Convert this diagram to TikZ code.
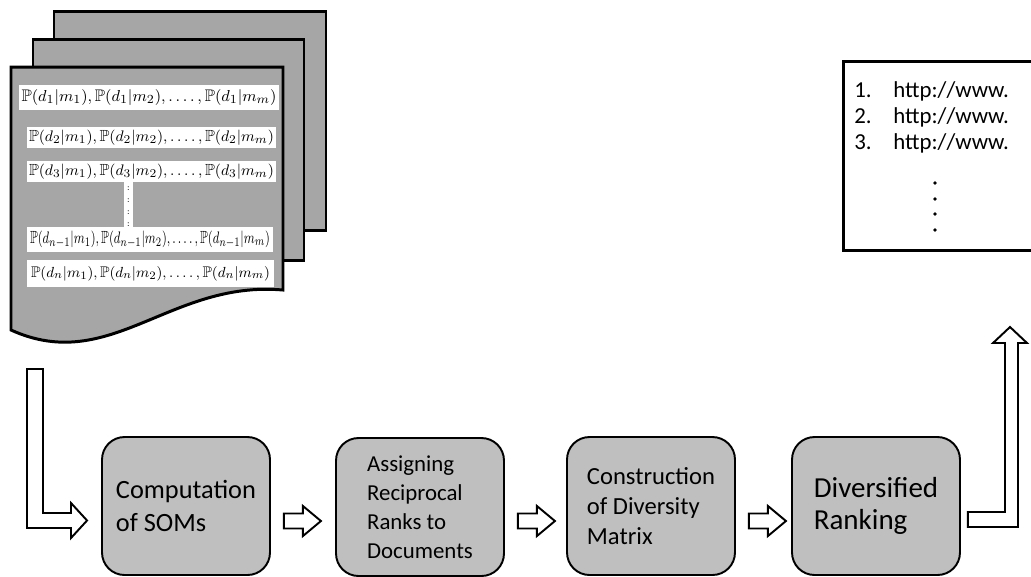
\documentclass[tikz,border=0pt]{standalone}
\usepackage{amssymb}
\usepackage{graphicx}
\usepackage{fontspec}
\newfontfamily\calibri{Carlito}
\usetikzlibrary{calc}
\definecolor{docgray}{gray}{0.65}
\definecolor{boxgray}{gray}{0.75}
\newcommand{\prow}[3][!]{\resizebox{#2}{#1}{$#3$}}
\tikzset{fatarrow/.pic={\draw[line width=1.1pt,fill=white] (0,-7.5) -- (19,-7.5) -- (19,-15) -- (37,0) -- (19,15) -- (19,7.5) -- (0,7.5) -- cycle;}}

\begin{document}
\begin{tikzpicture}[x=0.02cm,y=-0.02cm]
\tikzstyle{page}=[draw,line width=1.7pt,fill=docgray]
\tikzstyle{strip}=[fill=white,inner sep=0pt,font=\fontsize{9.5}{11}\selectfont]
\tikzstyle{stagebox}=[draw,line width=1.1pt,fill=boxgray,rounded corners=0.45cm,minimum width=3.36cm,minimum height=2.76cm,align=left]
\tikzstyle{hollow}=[draw,line width=1.1pt,fill=white]
\tikzstyle{urltext}=[anchor=base west,inner sep=0pt,font=\calibri\fontsize{13}{15}\selectfont]
\useasboundingbox (0,0) rectangle (1031,576);

\draw[page] (54,11) rectangle (326,230);
\draw[page] (33,39) rectangle (304,260);
\draw[page] (11,67) -- (283,67) -- (283,290) .. controls (170,280) and (110,375) .. (11,330) -- cycle;

\node[strip,minimum width=0.18cm,minimum height=0.92cm] (gap) at (128.5,205) {};
\foreach \i/\y in {1/189,2/201,3/213,4/225}
  \node[font=\tiny,inner sep=0pt] (colon\i) at (128.5,\y) {:};
\node[strip,minimum width=5.2cm,minimum height=0.5cm] (row1) at (149,97.5) {\prow{5.1cm}{\mathbb{P}(d_1|m_1), \mathbb{P}(d_1|m_2), \dots.\,, \mathbb{P}(d_1|m_m)}};
\node[strip,minimum width=4.98cm,minimum height=0.42cm] (row2) at (151.5,137.5) {\prow{4.9cm}{\mathbb{P}(d_2|m_1), \mathbb{P}(d_2|m_2), \dots.\,, \mathbb{P}(d_2|m_m)}};
\node[strip,minimum width=4.98cm,minimum height=0.42cm] (row3) at (151.5,171.5) {\prow{4.9cm}{\mathbb{P}(d_3|m_1), \mathbb{P}(d_3|m_2), \dots.\,, \mathbb{P}(d_3|m_m)}};
\node[strip,minimum width=4.92cm,minimum height=0.5cm] (row4) at (150,239.5) {\prow[0.25cm]{4.8cm}{\mathbb{P}(d_{n-1}|m_1), \mathbb{P}(d_{n-1}|m_2), \dots.\,, \mathbb{P}(d_{n-1}|m_m)}};
\node[strip,minimum width=4.94cm,minimum height=0.54cm] (row5) at (150.5,273.5) {\prow{4.78cm}{\mathbb{P}(d_n|m_1), \mathbb{P}(d_n|m_2), \dots.\,, \mathbb{P}(d_n|m_m)}};

\node[stagebox,font=\calibri\fontsize{15}{19}\selectfont] (som) at (186,506) {Computation\\of SOMs};
\node[stagebox,font=\calibri\fontsize{13}{16.4}\selectfont] (rrank) at (420,507) {Assigning\\Reciprocal\\Ranks to\\Documents};
\node[stagebox,font=\calibri\fontsize{14}{17}\selectfont] (dmat) at (651,506) {Construction\\of Diversity\\Matrix};
\node[stagebox,font=\calibri\fontsize{16.5}{18.5}\selectfont] (drank) at (876,506) {Diversified\\Ranking};

\pic at ($(som.east)+(13,15)$) {fatarrow};
\pic at ($(rrank.east)+(13,14)$) {fatarrow};
\pic at ($(dmat.east)+(13,15)$) {fatarrow};

\draw[hollow] (27,369) -- (43,369) -- (43,513) -- (71,513) -- (71,503) -- ($(som.west)+(-14,14.5)$) -- (71,538) -- (71,528) -- (27,528) -- cycle;
\draw[hollow] ($(drank.east)+(7,6)$) -- (1005,512) -- (1005,343) -- (993,343) -- (1010,327) -- (1027,343) -- (1018,343) -- (1018,527) -- ($(drank.east)+(7,21)$) -- cycle;

\draw[line width=1.7pt] (1031,61) -- (843,61) -- (843,250) -- (1031,250);
\foreach \i/\y in {1/97,2/123,3/149} {
  \node[urltext] (num\i) at (854,\y) {\i.};
  \node[urltext] (url\i) at (893,\y) {http://www.};
}
\foreach \y in {183,199,214,230}
  \fill (935,\y) circle (1.1pt);
\end{tikzpicture}
\end{document}
